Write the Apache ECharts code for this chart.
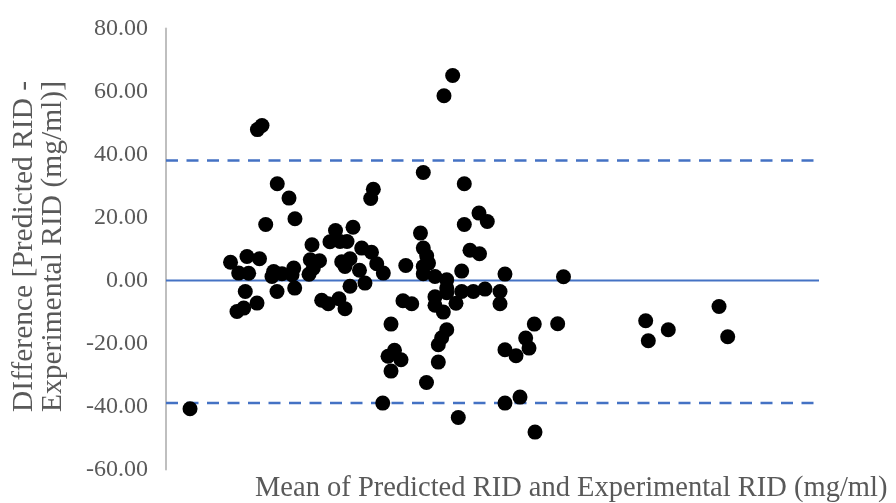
<!DOCTYPE html>
<html>
<head>
<meta charset="utf-8">
<script src="https://cdn.jsdelivr.net/npm/echarts@6/dist/echarts.min.js"></script>
<style>html,body{margin:0;padding:0;background:#fff}#c{width:896px;height:503px}</style>
</head>
<body>
<div id="c"></div>
<script>
// Mean of predicted & experimental RID (arbitrary scale, no axis labels in source)
const meanVals = [3.68,9.88,12.40,14.32,11.13,12.66,12.14,10.87,11.90,13.94,14.0,14.7,15.27,17.04,18.84,19.75,16.49,16.23,17.76,17.00,19.56,19.30,19.71,22.36,22.10,23.51,22.56,21.90,23.84,24.85,26.49,27.41,25.96,28.64,25.11,26.65,27.72,29.97,31.47,26.91,28.18,27.41,29.63,30.47,28.18,32.27,33.28,31.75,31.35,33.19,34.46,34.00,34.99,35.99,34.46,36.29,37.63,36.72,38.97,39.40,39.92,40.20,39.40,39.40,39.40,42.57,43.90,45.68,47.93,49.20,45.68,46.55,48.01,45.28,51.91,41.19,42.99,42.99,42.99,45.28,47.06,48.85,51.15,51.15,41.19,41.19,42.47,44.41,42.99,42.22,41.70,41.70,39.89,44.76,51.91,54.21,56.51,56.40,59.98,55.08,55.59,51.91,53.60,60.87,73.46,73.86,76.92,84.69,86.02];
// Difference [Predicted RID - Experimental RID]
const diffVals = [-40.73,5.78,7.62,6.89,2.35,2.29,-3.49,-9.84,-8.76,-7.17,47.9,49.2,17.78,30.70,26.16,19.59,2.86,1.27,2.13,-3.49,3.94,1.81,-2.41,11.33,6.57,6.25,3.94,1.97,-6.29,-7.40,-5.81,-8.98,15.87,16.89,12.29,12.38,12.38,10.29,8.95,5.94,6.89,4.44,3.24,-0.83,-1.84,5.30,2.35,28.95,26.03,-38.92,-13.84,-24.06,-22.16,-25.17,-28.76,-6.44,-7.40,4.76,15.05,10.29,7.84,5.52,4.44,2.13,34.29,58.63,65.08,30.70,21.40,18.73,17.78,9.59,8.48,2.98,2.03,1.27,0.22,-2.41,-3.90,-3.49,-3.49,-2.73,-3.49,-7.40,-5.17,-7.87,-10.03,-7.24,-15.65,-18.19,-20.41,-25.90,-32.38,-43.49,-38.92,-37.02,-48.13,-13.84,-13.75,-18.29,-21.46,-22.0,-23.90,1.17,-12.79,-19.14,-15.65,-8.25,-17.87];
const meanDiff = 0;
const upperLoA = 38.1;
const lowerLoA = -38.9;
const xRange = [0, 100];
const yTicks = [-60, -40, -20, 0, 20, 40, 60, 80];
const xTitle = 'Mean of Predicted RID and Experimental RID (mg/ml)';
const yTitle = 'DIfference [Predicted RID -\nExperimental RID (mg/ml)]';

const chart = echarts.init(document.getElementById('c'), null, {renderer: 'canvas'});
const serif = '"Liberation Serif", "Times New Roman", serif';
const points = meanVals.map((x, i) => [x, diffVals[i]]);
const hline = v => [[xRange[0], v], [xRange[1], v]];

chart.setOption({
  animation: false,
  backgroundColor: '#fff',
  grid: {left: 166, right: 77, top: 28.5, bottom: 33.5, containLabel: false},
  xAxis: {
    type: 'value', min: xRange[0], max: xRange[1],
    axisLine: {show: false}, axisTick: {show: false}, axisLabel: {show: false}, splitLine: {show: false}
  },
  yAxis: {
    type: 'value', min: yTicks[0], max: yTicks[yTicks.length - 1], interval: 20,
    axisLine: {show: true, onZero: false, lineStyle: {color: '#BFBFBF', width: 2}},
    axisTick: {show: false}, splitLine: {show: false},
    axisLabel: {color: '#595959', fontFamily: serif, fontSize: 24, margin: 18, formatter: v => v.toFixed(2)}
  },
  graphic: [
    {type: 'text', left: 255, top: 474, style: {text: xTitle, fill: '#595959', font: '28.5px ' + serif}},
    {type: 'text', x: 10, y: 412, rotation: Math.PI / 2,
     style: {text: yTitle, fill: '#595959', font: '29.5px ' + serif, textAlign: 'left', textVerticalAlign: 'top', lineHeight: 29}}
  ],
  series: [
    {type: 'line', data: hline(meanDiff), symbol: 'none', lineStyle: {color: '#4472C4', width: 2.2}, z: 1, silent: true},
    {type: 'line', data: hline(upperLoA), symbol: 'none', lineStyle: {color: '#4472C4', width: 2.5, type: [12, 8.5]}, z: 1, silent: true},
    {type: 'line', data: hline(lowerLoA), symbol: 'none', lineStyle: {color: '#4472C4', width: 2.5, type: [12, 8.5]}, z: 1, silent: true},
    {type: 'scatter', data: points, symbol: 'circle', symbolSize: 15, itemStyle: {color: '#000', opacity: 1}, z: 3}
  ]
});
</script>
</body>
</html>
